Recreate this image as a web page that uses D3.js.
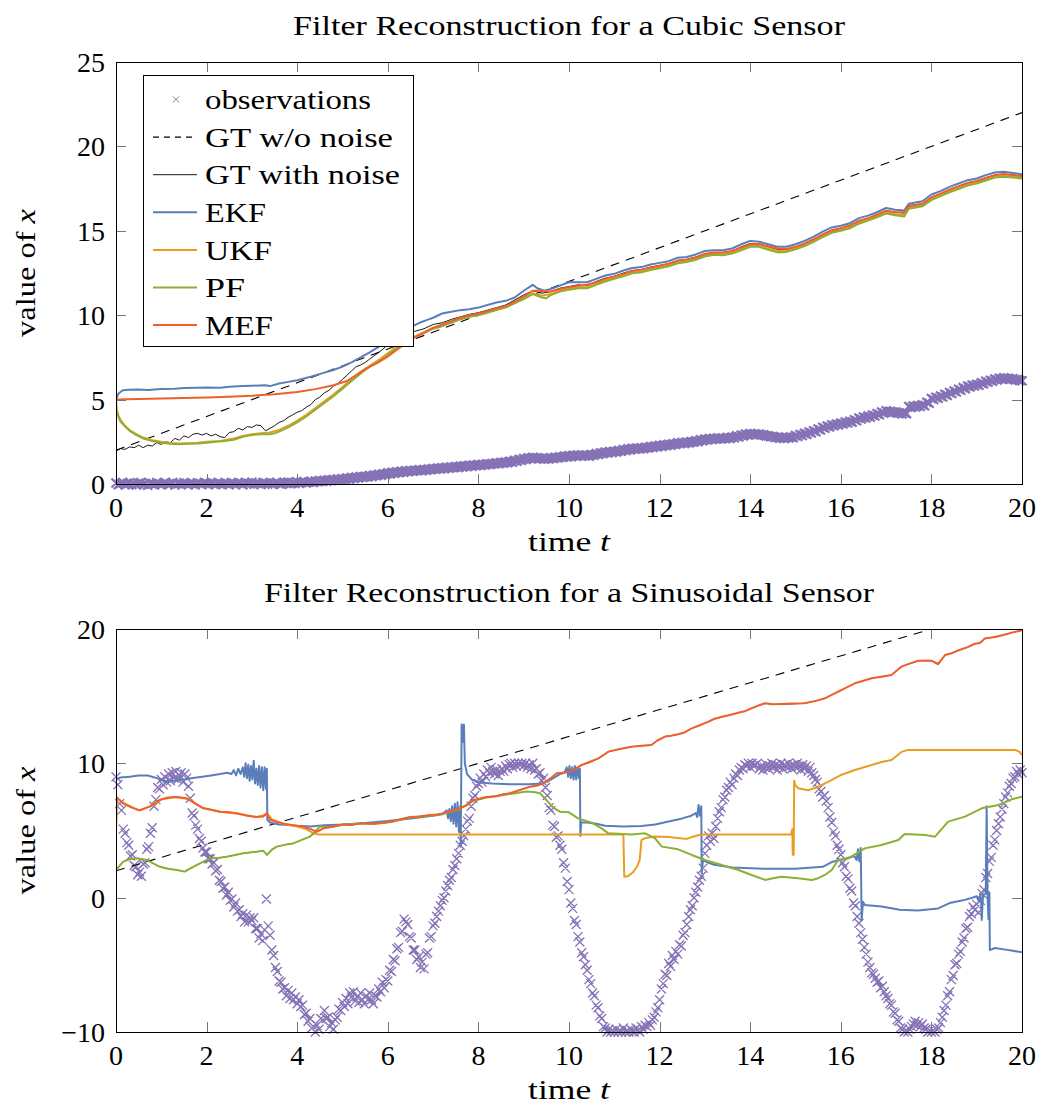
<!DOCTYPE html>
<html><head><meta charset="utf-8">
<script src="https://cdn.jsdelivr.net/npm/d3@7"></script>
<style>
body{margin:0;background:#fff}
text{font-family:"Liberation Serif","Times New Roman",serif;fill:#000}
</style>
</head><body>
<svg id="c" width="1042" height="1106"></svg>
<script>
// ---------------- data ----------------
const xTicks = [0,2,4,6,8,10,12,14,16,18,20];
const yTicksTop = [0,5,10,15,20,25];
const yTicksBot = [-10,0,10,20];
const legendLabels = ["observations","GT w/o noise","GT with noise","EKF","UKF","PF","MEF"];
const titleTop = "Filter Reconstruction for a Cubic Sensor";
const titleBot = "Filter Reconstruction for a Sinusoidal Sensor";
const xLabel = "time ";
const xLabelVar = "t";
const yLabel = "value of ";
const yLabelVar = "x";

// observation sampling steps (time between samples)
const obsTopStep = 0.05;
const obsBotStep = 0.04;

const obsTop = [
0.06,-0.04,0.03,0.08,-0.05,0.02,0.07,-0.03,0.04,-0.06,
0.05,0.09,-0.02,0.03,-0.07,0.06,0.01,-0.04,0.08,0.02,
-0.05,0.04,0.07,-0.03,0.02,0.09,-0.06,0.03,0.05,-0.02,
0.08,0.01,-0.04,0.06,0.03,-0.05,0.07,0.02,-0.03,0.09,
0.04,-0.02,0.07,0.01,-0.05,0.08,0.03,-0.01,0.06,0.02,
-0.04,0.09,0.05,-0.02,0.07,0.03,-0.05,0.08,0.04,0.01,
0.10,-0.01,0.06,0.03,-0.03,0.09,0.05,0.00,0.07,-0.02,
0.05,0.10,0.02,-0.02,0.08,0.04,0.11,0.01,0.07,0.03,
0.12,0.05,0.09,0.14,0.06,0.11,0.16,0.09,0.18,0.13,
0.20,0.15,0.22,0.17,0.25,0.20,0.27,0.22,0.30,0.24,
0.31,0.27,0.35,0.29,0.38,0.33,0.41,0.36,0.44,0.39,
0.46,0.42,0.50,0.45,0.53,0.49,0.57,0.52,0.61,0.56,
0.66,0.60,0.69,0.64,0.72,0.67,0.75,0.70,0.78,0.73,
0.80,0.75,0.82,0.78,0.84,0.79,0.86,0.82,0.88,0.84,
0.92,0.87,0.94,0.89,0.96,0.91,0.99,0.93,1.01,0.96,
1.03,0.98,1.06,1.01,1.08,1.03,1.11,1.06,1.12,1.08,
1.15,1.10,1.17,1.13,1.20,1.15,1.22,1.18,1.25,1.20,
1.28,1.23,1.30,1.26,1.35,1.29,1.40,1.35,1.46,1.40,
1.51,1.45,1.55,1.50,1.58,1.52,1.55,1.50,1.53,1.47,
1.52,1.48,1.56,1.51,1.59,1.54,1.62,1.57,1.65,1.60,
1.68,1.62,1.70,1.65,1.72,1.67,1.71,1.66,1.70,1.65,
1.75,1.70,1.80,1.75,1.85,1.80,1.89,1.84,1.92,1.87,
1.94,1.89,1.99,1.94,2.04,1.98,2.08,2.02,2.11,2.06,
2.13,2.07,2.14,2.09,2.18,2.13,2.22,2.17,2.25,2.20,
2.29,2.23,2.32,2.27,2.35,2.30,2.39,2.34,2.44,2.38,
2.46,2.40,2.48,2.43,2.52,2.47,2.56,2.51,2.62,2.56,
2.66,2.61,2.69,2.64,2.71,2.66,2.72,2.67,2.73,2.68,
2.76,2.70,2.79,2.74,2.85,2.79,2.90,2.85,2.96,2.90,
2.99,2.93,2.98,2.92,2.96,2.90,2.91,2.85,2.86,2.80,
2.81,2.75,2.77,2.71,2.76,2.70,2.77,2.72,2.79,2.74,
2.87,2.81,2.93,2.87,3.00,2.94,3.08,3.02,3.16,3.10,
3.26,3.20,3.36,3.30,3.44,3.38,3.51,3.45,3.55,3.49,
3.61,3.55,3.67,3.61,3.72,3.66,3.81,3.75,3.91,3.85,
3.97,3.91,4.02,3.96,4.09,4.03,4.17,4.11,4.26,4.20,
4.34,4.28,4.31,4.25,4.27,4.21,4.21,4.15,4.23,4.17,
4.59,4.53,4.62,4.56,4.65,4.59,4.69,4.63,4.84,4.78,
5.07,5.01,5.14,5.08,5.21,5.15,5.31,5.25,5.42,5.36,
5.51,5.45,5.61,5.55,5.71,5.65,5.81,5.75,5.87,5.81,
5.91,5.85,5.99,5.93,6.09,6.03,6.15,6.09,6.22,6.16,
6.26,6.20,6.29,6.23,6.27,6.21,6.23,6.17,6.19,6.13,
6.12];

const obsBot = [
9.0,8.4,7.0,6.5,5.1,4.8,4.1,3.9,3.1,3.2,2.4,2.3,1.7,1.9,1.6,2.5,2.6,3.6,3.8,4.8,5.2,6.8,7.3,8.2,8.1,
8.8,8.4,9.0,8.6,9.2,8.7,9.3,8.9,9.4,8.8,9.1,9.3,8.6,9.2,8.9,8.3,7.4,6.3,6.1,5.4,5.1,4.4,4.2,3.7,3.4,
3.4,2.9,2.9,2.5,2.6,2.0,2.1,1.3,1.2,0.7,0.8,0.2,0.4,-0.2,-0.1,-0.7,-0.4,-1.0,-0.9,-1.4,-1.2,-1.8,-1.3,-1.8,-1.5,
-1.7,-1.5,-2.3,-2.3,-3.0,-2.7,-3.2,-2.4,-0.1,-2.1,-2.8,-3.9,-4.3,-5.2,-5.5,-6.2,-6.3,-6.8,-6.7,-7.3,-6.9,-7.5,-7.1,-7.6,-7.4,
-7.9,-7.6,-8.1,-8.0,-8.7,-8.6,-9.2,-9.0,-9.7,-9.6,-10.0,-9.5,-9.8,-9.0,-9.1,-8.4,-9.0,-8.9,-9.6,-9.3,-9.8,-9.1,-8.9,-8.3,-8.4,
-7.8,-8.1,-7.5,-7.9,-7.1,-7.4,-7.0,-7.7,-7.4,-7.8,-7.1,-7.6,-7.9,-7.3,-7.6,-7.1,-7.6,-7.9,-7.3,-7.4,-6.8,-7.0,-6.3,-6.7,-6.1,
-6.2,-5.4,-5.5,-4.6,-4.7,-3.8,-3.7,-2.6,-2.5,-1.6,-1.8,-2.0,-2.9,-3.0,-3.9,-3.9,-4.6,-4.4,-5.2,-4.8,-5.3,-4.2,-4.1,-3.0,-2.9,
-2.1,-1.9,-1.4,-1.0,-0.6,-0.2,0.0,0.5,0.9,1.3,1.5,2.1,2.4,2.9,3.3,3.9,4.2,4.6,5.1,5.7,5.9,6.8,7.4,7.6,8.3,
8.5,8.9,8.6,9.2,9.0,9.5,9.3,9.7,9.4,9.2,9.5,9.1,9.4,9.6,9.4,9.8,9.6,9.9,10.0,9.7,10.0,9.8,10.0,9.9,10.0,
9.8,10.0,9.7,9.9,9.6,10.0,9.5,9.6,9.2,9.3,8.7,8.9,8.2,7.6,6.7,6.5,5.4,5.3,4.5,4.6,3.9,3.6,2.6,2.2,1.2,
0.6,-0.4,-0.8,-1.7,-2.0,-2.9,-3.3,-4.1,-4.4,-5.0,-5.4,-6.1,-6.4,-7.1,-7.3,-8.0,-8.2,-8.8,-9.0,-9.6,-9.7,-10.0,-9.8,-10.0,-9.9,
-10.0,-9.8,-10.0,-9.9,-10.0,-9.7,-10.0,-9.9,-10.0,-9.8,-9.9,-10.0,-9.7,-9.9,-10.0,-9.6,-9.8,-9.5,-9.6,-9.3,-9.5,-9.1,-8.9,-8.5,-8.2,
-7.6,-6.8,-6.4,-5.7,-5.8,-4.9,-5.1,-4.3,-4.6,-4.0,-4.2,-3.5,-3.6,-2.8,-2.6,-2.0,-1.4,-0.9,-0.6,0.0,0.4,0.8,1.3,1.6,2.2,
3.3,3.9,4.6,4.2,4.8,4.4,5.3,5.9,6.4,6.7,7.3,7.5,8.0,8.2,8.6,8.4,8.9,9.2,9.1,9.5,9.7,9.6,9.9,9.8,10.0,
9.7,10.0,9.8,9.9,10.0,9.6,9.8,9.5,9.7,9.9,9.6,9.8,10.0,9.7,9.9,9.5,9.8,10.0,9.6,9.9,9.7,10.0,9.8,9.6,9.9,
9.7,10.0,9.8,9.5,9.9,9.6,9.8,9.4,9.7,9.3,9.1,8.8,8.6,8.1,7.9,7.5,7.6,7.2,6.7,6.0,5.6,4.9,4.6,3.9,3.6,
3.2,2.6,2.3,1.6,1.4,0.7,0.5,-0.4,-0.6,-1.4,-1.9,-2.6,-3.1,-3.7,-4.2,-4.8,-5.2,-5.6,-5.7,-6.0,-6.3,-6.2,-6.7,-6.6,-7.0,
-7.3,-7.5,-7.9,-8.0,-8.5,-8.6,-9.1,-9.2,-9.7,-9.8,-10.0,-9.9,-10.0,-9.8,-9.6,-9.4,-9.2,-9.5,-9.3,-9.6,-9.4,-9.7,-9.8,-10.0,-9.9,
-10.0,-9.9,-10.0,-9.8,-9.7,-9.3,-8.9,-8.4,-8.0,-7.3,-7.0,-6.1,-5.8,-5.0,-4.9,-4.2,-4.0,-3.3,-3.0,-2.3,-2.2,-1.4,-1.2,-0.7,-0.9,
-0.5,-1.1,-0.2,0.3,0.6,1.5,1.8,2.7,3.0,3.9,4.3,5.0,5.5,6.0,6.6,7.0,7.5,7.8,8.3,8.5,8.9,9.0,9.4,9.2,9.5,
9.3];

// ground truth without noise [t, value]
const gtCleanTop = [[0,2],[20,22]];
const gtCleanBot = [[0,2],[20,22]];

// ---- top panel (cubic sensor) [t, value] ----
const gtNoiseTop = [[0,1.95],[0.1,2.1],[0.2,2.05],[0.3,2.2],[0.4,2.15],[0.5,2.3],[0.6,2.15],[0.7,2.3],[0.8,2.25],[0.9,2.45],[1.0,2.35],[1.1,2.5],[1.2,2.45],[1.3,2.7],[1.4,2.6],[1.5,2.85],[1.6,2.75],[1.7,2.95],[1.8,3.0],[1.9,2.9],[2.0,3.0],[2.1,2.85],[2.2,2.95],[2.3,2.8],[2.4,2.75],[2.5,3.05],[2.6,3.1],[2.7,3.3],[2.8,3.2],[2.9,3.4],[3.0,3.35],[3.1,3.5],[3.2,3.45],[3.3,3.15],[3.4,3.3],[3.5,3.45],[3.6,3.65],[3.7,3.75],[3.8,3.95],[3.9,4.1],[4.0,4.25],[4.1,4.35],[4.2,4.55],[4.3,4.7],[4.4,5.0],[4.5,5.15],[4.6,5.4],[4.7,5.55],[4.8,5.8],[4.9,5.95],[5.0,6.2],[5.1,6.45],[5.2,6.7],[5.3,6.95],[5.4,7.05],[5.5,7.2],[5.6,7.4],[5.7,7.6],[5.8,7.8],[5.9,8.0],[6.0,8.3],[6.1,8.5],[6.2,8.55],[6.3,8.75],[6.4,8.9],[6.6,9.05],[6.8,9.2],[7.0,9.45],[7.2,9.55],[7.4,9.75],[7.6,9.9],[7.8,10.05],[8.0,10.15],[8.2,10.3],[8.4,10.45],[8.6,10.6],[8.8,10.9],[9.0,11.2],[9.2,11.45],[9.4,11.3],[9.6,11.4],[9.8,11.6],[10.0,11.7],[10.2,11.8],[10.4,11.75],[10.6,12.0],[10.8,12.2],[11.0,12.3],[11.2,12.5],[11.4,12.65],[11.6,12.7],[11.8,12.85],[12.0,12.95],[12.2,13.05],[12.4,13.25],[12.6,13.3],[12.8,13.45],[13.0,13.65],[13.2,13.7],[13.4,13.7],[13.6,13.8],[13.8,14.05],[14.0,14.25],[14.2,14.2],[14.4,14.05],[14.6,13.9],[14.8,13.9],[15.0,14.05],[15.2,14.25],[15.4,14.5],[15.6,14.8],[15.8,15.05],[16.0,15.15],[16.2,15.3],[16.4,15.6],[16.6,15.75],[16.8,15.95],[17.0,16.2],[17.2,16.1],[17.4,16.05],[17.5,16.5],[17.8,16.6],[18.0,17.0],[18.2,17.2],[18.4,17.45],[18.6,17.65],[18.8,17.85],[19.0,17.95],[19.2,18.15],[19.4,18.3],[19.6,18.35],[19.8,18.3],[20.0,18.25]];

const ekfTop = [[0,5.0],[0.05,5.35],[0.15,5.55],[0.3,5.58],[0.5,5.6],[0.7,5.57],[1.0,5.63],[1.3,5.64],[1.5,5.68],[1.8,5.7],[2.0,5.72],[2.3,5.7],[2.5,5.76],[2.8,5.8],[3.0,5.82],[3.3,5.85],[3.4,5.8],[3.6,5.95],[3.8,6.05],[4.0,6.15],[4.3,6.35],[4.6,6.6],[4.8,6.75],[5.0,6.95],[5.2,7.2],[5.4,7.5],[5.6,7.8],[5.75,8.05],[5.9,8.3],[6.1,8.7],[6.3,9.0],[6.5,9.3],[6.7,9.55],[6.9,9.75],[7.0,9.85],[7.2,10.1],[7.4,10.2],[7.6,10.3],[7.8,10.35],[8.0,10.45],[8.2,10.6],[8.4,10.75],[8.6,10.85],[8.8,11.05],[9.0,11.45],[9.2,11.8],[9.3,11.6],[9.45,11.45],[9.6,11.55],[9.8,11.75],[10.0,11.95],[10.2,11.95],[10.4,11.95],[10.6,12.15],[10.8,12.35],[11.0,12.45],[11.2,12.65],[11.4,12.8],[11.6,12.85],[11.8,13.0],[12.0,13.1],[12.2,13.2],[12.4,13.4],[12.6,13.45],[12.8,13.6],[13.0,13.8],[13.2,13.85],[13.4,13.85],[13.6,13.95],[13.8,14.2],[14.0,14.4],[14.2,14.35],[14.4,14.2],[14.6,14.05],[14.8,14.05],[15.0,14.2],[15.2,14.4],[15.4,14.65],[15.6,14.95],[15.8,15.2],[16.0,15.3],[16.2,15.45],[16.4,15.75],[16.6,15.9],[16.8,16.1],[17.0,16.35],[17.2,16.25],[17.4,16.2],[17.5,16.6],[17.8,16.75],[18.0,17.15],[18.2,17.35],[18.4,17.6],[18.6,17.8],[18.8,18.0],[19.0,18.1],[19.2,18.3],[19.4,18.45],[19.6,18.5],[19.8,18.42],[20.0,18.35]];

const ukfTop = [[0,5.0],[0.02,4.4],[0.05,4.1],[0.1,3.8],[0.2,3.45],[0.3,3.2],[0.45,2.95],[0.6,2.75],[0.8,2.6],[1.0,2.5],[1.2,2.43],[1.4,2.4],[1.6,2.42],[1.8,2.45],[2.0,2.5],[2.3,2.55],[2.6,2.7],[2.8,2.85],[3.0,2.95],[3.2,3.0],[3.4,3.05],[3.6,3.2],[3.8,3.45],[4.0,3.75],[4.2,4.1],[4.4,4.5],[4.6,4.9],[4.8,5.3],[5.0,5.75],[5.2,6.2],[5.4,6.65],[5.6,7.0],[5.8,7.35],[6.0,7.75],[6.2,8.15],[6.4,8.5],[6.6,8.75],[6.8,9.0],[7.0,9.25],[7.2,9.4],[7.4,9.6],[7.6,9.8],[7.8,9.95],[8.0,10.05],[8.2,10.2],[8.4,10.35],[8.6,10.5],[8.8,10.75],[9.0,11.0],[9.2,11.3],[9.4,11.15],[9.6,11.25],[9.8,11.45],[10.0,11.55],[10.2,11.65],[10.4,11.65],[10.6,11.85],[10.8,12.05],[11.0,12.2],[11.2,12.35],[11.4,12.52],[11.6,12.6],[11.8,12.72],[12.0,12.83],[12.2,12.95],[12.4,13.12],[12.6,13.2],[12.8,13.32],[13.0,13.52],[13.2,13.62],[13.4,13.6],[13.6,13.7],[13.8,13.9],[14.0,14.1],[14.2,14.1],[14.4,13.95],[14.6,13.8],[14.8,13.8],[15.0,13.95],[15.2,14.15],[15.4,14.4],[15.6,14.68],[15.8,14.92],[16.0,15.05],[16.2,15.2],[16.4,15.48],[16.6,15.65],[16.8,15.85],[17.0,16.08],[17.2,16.0],[17.4,15.95],[17.5,16.35],[17.8,16.5],[18.0,16.88],[18.2,17.1],[18.4,17.33],[18.6,17.53],[18.8,17.73],[19.0,17.85],[19.2,18.03],[19.4,18.2],[19.6,18.26],[19.8,18.2],[20.0,18.15]];

const pfTop = [[0,4.4],[0.05,4.0],[0.1,3.7],[0.2,3.4],[0.3,3.15],[0.45,2.9],[0.6,2.7],[0.8,2.55],[1.0,2.45],[1.2,2.38],[1.4,2.36],[1.6,2.38],[1.8,2.4],[2.0,2.45],[2.2,2.5],[2.4,2.55],[2.6,2.62],[2.8,2.8],[3.0,2.9],[3.2,2.95],[3.4,2.95],[3.5,3.0],[3.6,3.1],[3.8,3.35],[4.0,3.65],[4.2,4.0],[4.4,4.4],[4.6,4.8],[4.8,5.2],[5.0,5.65],[5.2,6.1],[5.4,6.55],[5.6,6.95],[5.8,7.25],[6.0,7.65],[6.2,8.05],[6.4,8.45],[6.6,8.7],[6.8,8.95],[7.0,9.2],[7.2,9.35],[7.4,9.55],[7.6,9.75],[7.8,9.9],[8.0,10.0],[8.2,10.15],[8.4,10.3],[8.6,10.45],[8.8,10.7],[9.0,10.95],[9.2,11.25],[9.4,11.05],[9.5,11.0],[9.6,11.2],[9.8,11.4],[10.0,11.5],[10.2,11.6],[10.4,11.6],[10.6,11.8],[10.8,12.0],[11.0,12.15],[11.2,12.3],[11.4,12.48],[11.6,12.55],[11.8,12.68],[12.0,12.78],[12.2,12.9],[12.4,13.08],[12.6,13.15],[12.8,13.28],[13.0,13.48],[13.2,13.58],[13.4,13.55],[13.6,13.65],[13.8,13.85],[14.0,14.05],[14.2,14.05],[14.4,13.88],[14.6,13.72],[14.8,13.75],[15.0,13.9],[15.2,14.1],[15.4,14.35],[15.6,14.62],[15.8,14.88],[16.0,15.0],[16.2,15.15],[16.4,15.42],[16.6,15.6],[16.8,15.8],[17.0,16.02],[17.2,15.92],[17.4,15.85],[17.5,16.3],[17.8,16.45],[18.0,16.82],[18.2,17.05],[18.4,17.28],[18.6,17.48],[18.8,17.68],[19.0,17.8],[19.2,17.98],[19.4,18.15],[19.6,18.2],[19.8,18.15],[20.0,18.1]];

const mefTop = [[0,5.0],[0.5,5.03],[1.0,5.06],[1.5,5.09],[2.0,5.12],[2.5,5.17],[3.0,5.23],[3.5,5.32],[4.0,5.45],[4.4,5.62],[4.8,5.85],[5.1,6.1],[5.3,6.45],[5.5,6.8],[5.75,7.15],[6.0,7.55],[6.3,8.15],[6.6,8.7],[6.8,8.95],[7.0,9.25],[7.2,9.45],[7.4,9.65],[7.6,9.85],[7.8,10.0],[8.0,10.1],[8.2,10.25],[8.4,10.4],[8.6,10.55],[8.8,10.8],[9.0,11.1],[9.2,11.45],[9.4,11.45],[9.6,11.4],[9.8,11.55],[10.0,11.65],[10.2,11.75],[10.4,11.8],[10.6,11.95],[10.8,12.15],[11.0,12.3],[11.2,12.45],[11.4,12.62],[11.6,12.7],[11.8,12.82],[12.0,12.93],[12.2,13.05],[12.4,13.22],[12.6,13.3],[12.8,13.42],[13.0,13.62],[13.2,13.72],[13.4,13.72],[13.6,13.8],[13.8,14.0],[14.0,14.2],[14.2,14.22],[14.4,14.08],[14.6,13.95],[14.8,13.92],[15.0,14.05],[15.2,14.25],[15.4,14.5],[15.6,14.78],[15.8,15.02],[16.0,15.15],[16.2,15.32],[16.4,15.58],[16.6,15.75],[16.8,15.95],[17.0,16.18],[17.2,16.12],[17.4,16.1],[17.5,16.45],[17.8,16.6],[18.0,16.98],[18.2,17.2],[18.4,17.43],[18.6,17.63],[18.8,17.83],[19.0,17.95],[19.2,18.13],[19.4,18.3],[19.6,18.36],[19.8,18.3],[20.0,18.25]];

// ---- bottom panel (sinusoidal sensor) [t, value] ----
const gtNoiseBot = [[0,2.06],[0.16,2.68],[0.3,2.85],[0.46,2.93],[0.68,2.8],[0.97,2.3],[1.15,2.15],[1.34,2.06],[1.52,1.94],[1.65,2.2],[1.78,2.43],[2.07,2.93],[2.25,2.95],[2.44,3.05],[2.6,3.15],[2.81,3.3],[3.1,3.42],[3.25,3.5],[3.33,3.18],[3.45,3.6],[3.55,3.8],[3.75,3.95],[3.91,4.04],[4.1,4.3],[4.28,4.54],[4.42,4.9],[4.58,5.16],[4.8,5.3],[5.02,5.46],[5.2,5.4],[5.4,5.55],[5.6,5.5],[5.75,5.53],[5.95,5.6],[6.12,5.7],[6.3,5.85],[6.49,6.0],[6.7,6.05],[6.93,6.15],[7.1,6.2],[7.23,6.28],[7.4,6.45],[7.59,6.65],[7.75,6.9],[7.89,7.27],[8.0,7.35],[8.18,7.5],[8.4,7.55],[8.55,7.7],[8.7,7.77],[8.9,8.0],[9.14,8.26],[9.3,8.35],[9.43,8.5],[9.6,8.9],[9.73,9.26],[9.85,9.3],[10.0,9.38],[10.15,9.6],[10.28,9.88],[10.45,10.05],[10.65,10.37],[10.8,10.7],[10.87,10.87],[11.1,11.05],[11.38,11.24],[11.6,11.3],[11.82,11.36],[11.95,11.7],[12.12,11.99],[12.25,12.05],[12.41,12.16],[12.55,12.3],[12.71,12.6],[12.9,12.85],[13.08,13.1],[13.2,13.3],[13.38,13.47],[13.55,13.6],[13.74,13.77],[13.9,13.9],[14.03,14.1],[14.18,14.3],[14.33,14.47],[14.5,14.38],[14.69,14.4],[14.9,14.42],[15.2,14.47],[15.45,14.65],[15.65,14.84],[15.8,15.1],[15.94,15.33],[16.1,15.6],[16.31,15.96],[16.5,16.15],[16.68,16.33],[16.9,16.45],[17.12,16.58],[17.25,16.95],[17.34,17.2],[17.5,17.4],[17.71,17.64],[17.9,17.65],[18.0,17.62],[18.15,17.35],[18.3,18.06],[18.45,18.2],[18.59,18.4],[18.8,18.65],[18.96,18.9],[19.07,18.96],[19.18,19.3],[19.4,19.4],[19.59,19.56],[19.8,19.75],[20.0,19.9]];

const ekfBot = [[0,8.8],[0.1,8.95],[0.3,9.0],[0.5,9.1],[0.7,9.1],[0.9,8.9],[1.1,8.65],[1.3,8.7],[1.5,8.8],[1.7,8.9],[1.9,9.0],[2.1,9.1],[2.3,9.2],[2.45,9.3],[2.55,9.2],[2.6,9.5],[2.65,9.1],[2.7,9.6],[2.75,9.2],[2.8,9.7],[2.83,9.0],[2.86,10.0],[2.89,8.9],[2.92,9.9],[2.95,8.7],[2.98,9.8],[3.01,8.8],[3.04,10.2],[3.07,8.5],[3.1,9.6],[3.13,8.4],[3.16,9.8],[3.19,8.2],[3.22,9.7],[3.25,8.0],[3.28,9.7],[3.31,8.1],[3.33,9.6],[3.34,5.8],[3.4,5.6],[3.6,5.45],[3.8,5.4],[4.0,5.35],[4.3,5.3],[4.6,5.4],[5.0,5.45],[5.5,5.55],[6.0,5.7],[6.5,5.9],[7.0,6.1],[7.2,6.2],[7.3,6.5],[7.33,5.9],[7.36,6.6],[7.39,5.7],[7.42,6.8],[7.45,5.5],[7.48,7.0],[7.51,5.3],[7.54,7.1],[7.57,4.9],[7.6,6.8],[7.61,3.8],[7.63,12.9],[7.66,11.6],[7.68,12.9],[7.7,10.0],[7.75,9.2],[7.85,8.8],[8.0,8.6],[8.3,8.5],[8.7,8.45],[9.1,8.45],[9.4,8.5],[9.55,8.7],[9.7,9.0],[9.8,9.2],[9.9,9.3],[9.95,9.7],[9.98,9.0],[10.01,9.8],[10.04,8.9],[10.07,9.7],[10.1,8.8],[10.13,9.8],[10.16,8.8],[10.19,9.7],[10.22,8.9],[10.24,9.6],[10.25,4.6],[10.27,5.6],[10.4,5.6],[10.6,5.5],[10.8,5.35],[11.2,5.3],[11.6,5.33],[11.9,5.45],[12.1,5.6],[12.3,5.75],[12.5,5.9],[12.7,6.1],[12.8,6.3],[12.83,6.0],[12.86,6.9],[12.89,6.1],[12.92,6.8],[12.93,1.8],[12.96,2.9],[13.0,2.7],[13.2,2.45],[13.6,2.25],[14.3,2.15],[15.0,2.15],[15.6,2.3],[15.8,2.65],[16.1,2.9],[16.3,3.1],[16.35,2.8],[16.38,3.6],[16.41,2.7],[16.44,3.7],[16.46,-1.7],[16.49,-0.3],[16.53,-0.55],[16.9,-0.65],[17.3,-0.9],[17.7,-0.95],[18.15,-0.8],[18.4,-0.4],[18.7,-0.2],[18.9,0.0],[19.0,0.1],[19.05,-0.3],[19.08,0.3],[19.1,-0.5],[19.11,-1.66],[19.14,0.2],[19.2,0.3],[19.22,6.8],[19.24,0.0],[19.26,-1.6],[19.28,0.4],[19.29,-3.9],[19.4,-3.75],[19.6,-3.85],[19.8,-3.95],[20.0,-4.07]];

const ukfBot = [[0,5.0],[0.02,7.4],[0.2,7.0],[0.5,6.5],[0.8,6.85],[1.0,7.3],[1.3,7.5],[1.6,7.35],[1.9,6.7],[2.3,6.4],[2.7,6.25],[3.1,6.0],[3.35,6.2],[3.45,5.8],[3.7,5.5],[4.0,5.3],[4.2,5.1],[4.35,4.8],[4.45,4.71],[11.2,4.71],[11.22,1.56],[11.3,1.6],[11.4,1.85],[11.5,2.3],[11.56,2.8],[11.6,4.3],[11.7,4.45],[11.9,4.55],[12.2,4.52],[12.5,4.4],[12.6,4.38],[12.75,4.55],[12.9,4.68],[13.0,4.71],[14.9,4.71],[14.93,5.1],[14.94,3.2],[14.95,4.8],[14.96,3.2],[14.97,8.7],[15.0,8.35],[15.06,8.14],[15.28,8.0],[15.5,8.26],[15.73,8.64],[16.0,9.13],[16.31,9.5],[16.68,9.88],[16.9,10.1],[17.12,10.25],[17.34,10.85],[17.49,11.0],[19.85,11.0],[19.95,10.85],[20,10.6]];

const pfBot = [[0,2.06],[0.16,2.68],[0.3,2.85],[0.46,2.93],[0.68,2.8],[0.97,2.3],[1.15,2.15],[1.34,2.06],[1.52,1.94],[1.65,2.2],[1.78,2.43],[2.07,2.93],[2.25,2.95],[2.44,3.05],[2.6,3.15],[2.81,3.3],[3.1,3.42],[3.25,3.5],[3.33,3.18],[3.45,3.6],[3.55,3.8],[3.75,3.95],[3.91,4.04],[4.1,4.3],[4.28,4.54],[4.42,5.0],[4.5,5.29],[4.7,5.25],[5.02,5.42],[5.4,5.5],[5.75,5.5],[6.12,5.66],[6.49,5.96],[6.93,6.1],[7.23,6.24],[7.59,6.6],[7.89,7.22],[8.18,7.45],[8.55,7.65],[8.7,7.72],[9.07,7.9],[9.25,7.85],[9.36,7.77],[9.5,7.27],[9.65,6.7],[9.8,6.4],[10.0,6.35],[10.2,5.9],[10.5,5.58],[10.72,5.16],[10.87,4.79],[11.1,4.75],[11.38,4.71],[11.68,4.79],[11.9,4.42],[12.05,3.8],[12.41,3.6],[12.71,3.18],[13.0,2.8],[13.3,2.5],[13.74,2.06],[14.03,1.69],[14.33,1.32],[14.5,1.45],[14.69,1.56],[15.06,1.44],[15.36,1.32],[15.5,1.45],[15.65,1.69],[15.8,2.06],[15.94,2.8],[16.17,2.93],[16.53,3.67],[16.9,3.92],[17.27,4.29],[17.41,4.74],[17.86,4.66],[18.08,4.54],[18.25,5.2],[18.37,5.66],[18.74,6.03],[19.11,6.65],[19.48,6.9],[19.77,7.32],[20,7.52]];

const mefBot = [[0,5.0],[0.01,7.5],[0.16,7.0],[0.35,6.7],[0.53,6.5],[0.75,6.8],[0.97,7.3],[1.15,7.45],[1.34,7.5],[1.56,7.4],[1.75,7.0],[1.93,6.65],[2.1,6.55],[2.3,6.4],[2.5,6.35],[2.66,6.28],[2.9,6.1],[3.1,6.0],[3.25,6.05],[3.33,6.3],[3.4,5.8],[3.55,5.65],[3.69,5.53],[3.9,5.4],[4.13,5.29],[4.3,5.1],[4.43,4.9],[4.58,5.16],[4.8,5.3],[5.02,5.46],[5.2,5.4],[5.4,5.55],[5.6,5.5],[5.75,5.53],[5.95,5.6],[6.12,5.7],[6.3,5.85],[6.49,6.0],[6.7,6.05],[6.93,6.15],[7.1,6.2],[7.23,6.28],[7.4,6.45],[7.59,6.65],[7.75,6.9],[7.89,7.27],[8.0,7.35],[8.18,7.5],[8.4,7.55],[8.55,7.7],[8.7,7.77],[8.9,8.0],[9.14,8.26],[9.3,8.35],[9.43,8.5],[9.6,8.9],[9.73,9.26],[9.85,9.3],[10.0,9.38],[10.15,9.6],[10.28,9.88],[10.45,10.1],[10.65,10.37],[10.8,10.7],[10.87,10.87],[11.1,11.05],[11.38,11.24],[11.6,11.3],[11.82,11.36],[11.95,11.7],[12.12,11.99],[12.25,12.05],[12.41,12.16],[12.55,12.3],[12.71,12.6],[12.9,12.85],[13.08,13.1],[13.2,13.3],[13.38,13.47],[13.55,13.6],[13.74,13.77],[13.9,13.9],[14.03,14.1],[14.18,14.3],[14.33,14.47],[14.5,14.4],[14.69,14.42],[14.9,14.45],[15.2,14.47],[15.45,14.65],[15.65,14.84],[15.8,15.1],[15.94,15.33],[16.1,15.6],[16.31,15.96],[16.5,16.15],[16.68,16.33],[16.9,16.45],[17.12,16.58],[17.25,16.95],[17.34,17.2],[17.5,17.4],[17.71,17.64],[17.9,17.65],[18.0,17.64],[18.15,17.4],[18.3,18.06],[18.45,18.2],[18.59,18.4],[18.8,18.65],[18.96,18.9],[19.07,18.96],[19.18,19.3],[19.4,19.4],[19.59,19.56],[19.8,19.75],[20.0,19.9]];

// ---------------- style ----------------
const COL = {obs:"#8572b6", ekf:"#5a7eb9", ukf:"#e99e22", pf:"#8bb034", mef:"#f0602d"};
const FS = 28;

const svg = d3.select("#c");
const x = d3.scaleLinear().domain([0,20]).range([116,1022]);

function cross(sel, px, py, s, col){
  sel.append("path")
    .attr("d", `M${px-s},${py-s}L${px+s},${py+s}M${px-s},${py+s}L${px+s},${py-s}`)
    .attr("stroke", col).attr("stroke-width", 1).attr("fill","none");
}

function panel(cfg){
  const y = d3.scaleLinear().domain(cfg.ydom).range([cfg.yBottom, cfg.yTop]);
  const g = svg.append("g");
  const id = "clip" + cfg.key;
  svg.append("defs").append("clipPath").attr("id", id)
    .append("rect").attr("x",116).attr("y",cfg.yTop).attr("width",906).attr("height",cfg.yBottom-cfg.yTop);

  // observations
  const og = g.append("g");
  const obsPath = cfg.obs.map((v,i)=>{
    const px = x(i*cfg.obsStep), py = y(v), s = cfg.ms;
    return `M${px-s},${py-s}L${px+s},${py+s}M${px-s},${py+s}L${px+s},${py-s}`;
  }).join("");
  og.append("path").attr("d", obsPath).attr("stroke", COL.obs).attr("stroke-width", cfg.mw).attr("fill","none");

  const line = d3.line().x(d=>x(d[0])).y(d=>y(d[1]));
  const lg = g.append("g").attr("clip-path", `url(#${id})`);
  lg.append("path").attr("d", line(cfg.gtClean)).attr("stroke","#000").attr("stroke-width",1.1)
    .attr("stroke-dasharray","9,7").attr("fill","none");
  lg.append("path").attr("d", line(cfg.gtNoise)).attr("stroke","#000").attr("stroke-width",0.9).attr("fill","none");
  [["ekf",cfg.ekf],["ukf",cfg.ukf],["pf",cfg.pf],["mef",cfg.mef]].forEach(([k,d])=>{
    lg.append("path").attr("d", line(d)).attr("stroke", COL[k]).attr("stroke-width",2)
      .attr("stroke-linejoin","round").attr("fill","none");
  });

  // frame & ticks
  const fg = g.append("g").attr("shape-rendering","crispEdges");
  const tl = 10;
  xTicks.forEach(t=>{
    const px = Math.round(x(t))+0.5;
    fg.append("line").attr("x1",px).attr("x2",px).attr("y1",cfg.yBottom).attr("y2",cfg.yBottom-tl).attr("stroke","#777");
    fg.append("line").attr("x1",px).attr("x2",px).attr("y1",cfg.yTop).attr("y2",cfg.yTop+tl).attr("stroke","#777");
    g.append("text").attr("x", x(t)).attr("y", cfg.yBottom+33).attr("text-anchor","middle")
      .attr("font-size",FS).text(d3.format("d")(t));
  });
  cfg.yTicks.forEach(v=>{
    const py = Math.round(y(v))+0.5;
    fg.append("line").attr("x1",116).attr("x2",116+tl).attr("y1",py).attr("y2",py).attr("stroke","#777");
    fg.append("line").attr("x1",1022).attr("x2",1022-tl).attr("y1",py).attr("y2",py).attr("stroke","#777");
    g.append("text").attr("x", 105).attr("y", y(v)+10).attr("text-anchor","end")
      .attr("font-size",FS).text(d3.format("d")(v));
  });
  fg.append("rect").attr("x",116.5).attr("y",cfg.yTop+0.5).attr("width",906).attr("height",cfg.yBottom-cfg.yTop)
    .attr("fill","none").attr("stroke","#000").attr("stroke-width",1);

  // title
  g.append("text").attr("x",569).attr("y",cfg.yTop-27).attr("text-anchor","middle")
    .attr("font-size",FS).attr("textLength",cfg.titleLen).attr("lengthAdjust","spacingAndGlyphs").text(cfg.title);
  // x label
  const xl = g.append("text").attr("x",569).attr("y",cfg.yBottom+67).attr("text-anchor","middle")
    .attr("font-size",FS).attr("textLength",82).attr("lengthAdjust","spacingAndGlyphs");
  xl.append("tspan").text(xLabel);
  xl.append("tspan").attr("font-style","italic").text(xLabelVar);
  // y label
  const yl = g.append("text").attr("transform",`translate(35,${(cfg.yTop+cfg.yBottom)/2}) rotate(-90)`)
    .attr("text-anchor","middle").attr("font-size",FS).attr("textLength",128).attr("lengthAdjust","spacingAndGlyphs");
  yl.append("tspan").text(yLabel);
  yl.append("tspan").attr("font-style","italic").text(yLabelVar);
  return {g, y};
}

panel({key:"top", ydom:[0,25], yTop:62, yBottom:484, yTicks:yTicksTop, obs:obsTop, obsStep:obsTopStep, ms:4.5, mw:2.2,
  gtClean:gtCleanTop, gtNoise:gtNoiseTop, ekf:ekfTop, ukf:ukfTop, pf:pfTop, mef:mefTop, title:titleTop, titleLen:552});
panel({key:"bot", ydom:[-10,20], yTop:629, yBottom:1032, yTicks:yTicksBot, obs:obsBot, obsStep:obsBotStep, ms:4.5, mw:1.3,
  gtClean:gtCleanBot, gtNoise:gtNoiseBot, ekf:ekfBot, ukf:ukfBot, pf:pfBot, mef:mefBot, title:titleBot, titleLen:610});

// legend (top panel)
const L = svg.append("g");
L.append("rect").attr("x",143.5).attr("y",75.5).attr("width",270).attr("height",271)
  .attr("fill","#fff").attr("stroke","#000").attr("stroke-width",1).attr("shape-rendering","crispEdges");
const legendLens = [166,188,195,61,67,40,68];
const legendStyles = [
  {type:"marker"},
  {col:"#000", w:1.1, dash:"6,5"},
  {col:"#000", w:0.9},
  {col:COL.ekf, w:2},{col:COL.ukf, w:2},{col:COL.pf, w:2},{col:COL.mef, w:2}
];
legendLabels.forEach((lab,i)=>{
  const cy = 99.5 + i*37.6;
  const st = legendStyles[i];
  if(st.type==="marker"){ cross(L, 176, cy, 3, COL.obs); }
  else {
    const ln = L.append("line").attr("x1",153).attr("x2",197).attr("y1",cy).attr("y2",cy)
      .attr("stroke",st.col).attr("stroke-width",st.w);
    if(st.dash) ln.attr("stroke-dasharray",st.dash);
  }
  L.append("text").attr("x",205).attr("y",cy+9.6).attr("font-size",FS)
    .attr("textLength",legendLens[i]).attr("lengthAdjust","spacingAndGlyphs").text(lab);
});
</script>
</body></html>
